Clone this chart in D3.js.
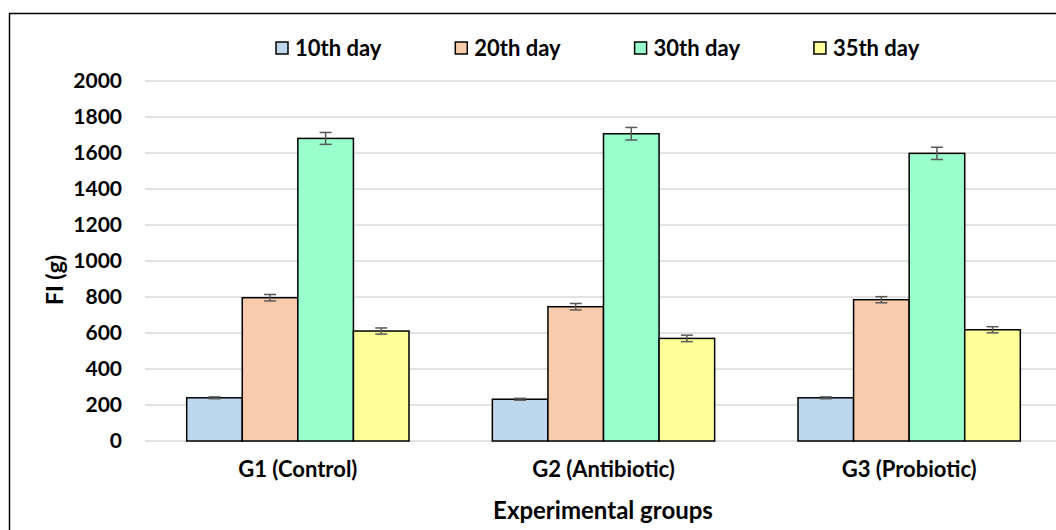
<!DOCTYPE html>
<html>
<head>
<meta charset="utf-8">
<script src="https://cdn.jsdelivr.net/npm/d3@7"></script>
<style>
    body { margin: 0; background: #fff; }
    svg { display: block; font-family: Lato, "Open Sans", sans-serif; font-weight: bold; }
</style>
</head>
<body>
<div id="chart"></div>
<script>

const groups = ["G1 (Control)", "G2 (Antibiotic)", "G3 (Probiotic)"];
const days = ["10th day", "20th day", "30th day", "35th day"];
const dayColors = ["#bdd7ee", "#f8cbad", "#99ffcc", "#ffff99"];

// mean FI per group, one array per day
const day10 = [240, 232, 240];
const day20 = [796, 746, 785];
const day30 = [1681, 1707, 1598];
const day35 = [611, 570, 618];

// error bar half-length
const err10 = [5, 5, 5];
const err20 = [18, 18, 17];
const err30 = [33, 35, 34];
const err35 = [17, 18, 17];

const yTicks = [0, 200, 400, 600, 800, 1000, 1200, 1400, 1600, 1800, 2000];

class GroupedBarChart {

    constructor(width = 1056, height = 530) {
        this.width = width;
        this.height = height;
        this.plotLeft = 145;
        this.plotRight = 1062;
        this.plotTop = 81;
        this.plotBottom = 441;
    }

    initialize() {

        const series = [day10, day20, day30, day35];
        const errors = [err10, err20, err30, err35];

        const rows = [];
        groups.forEach((g, gi) => {
            days.forEach((d, di) => {
                rows.push({ group: g, day: d, value: series[di][gi], err: errors[di][gi] });
            });
        });

        const svg = d3.select("#chart")
            .append("svg")
            .attr("width", this.width)
            .attr("height", this.height);

        // outer frame
        svg.append("rect")
            .attr("x", 9.5)
            .attr("y", 13.5)
            .attr("width", this.width + 20)
            .attr("height", this.height + 20)
            .attr("fill", "none")
            .attr("stroke", "#000")
            .attr("stroke-width", 1.5);

        const x0 = d3.scaleBand()
            .domain(groups)
            .range([this.plotLeft, this.plotRight])
            .paddingInner(0.2727)
            .paddingOuter(0.1364);

        const x1 = d3.scaleBand()
            .domain(days)
            .range([0, x0.bandwidth()]);

        const y = d3.scaleLinear()
            .domain([0, 2000])
            .range([this.plotBottom, this.plotTop]);

        const color = d3.scaleOrdinal()
            .domain(days)
            .range(dayColors);

        // gridlines
        svg.append("g")
            .selectAll("line")
            .data(yTicks)
            .enter()
            .append("line")
            .attr("x1", this.plotLeft)
            .attr("x2", this.plotRight)
            .attr("y1", d => y(d))
            .attr("y2", d => y(d))
            .attr("stroke", "#d9d9d9")
            .attr("stroke-width", 1.5);

        // y axis labels
        const yAxis = d3.axisLeft(y)
            .tickValues(yTicks)
            .tickFormat(d3.format("d"))
            .tickSize(0)
            .tickPadding(0);

        svg.append("g")
            .attr("transform", `translate(122, 0)`)
            .call(yAxis)
            .call(g => g.select(".domain").remove())
            .selectAll("text")
            .attr("font-family", "Lato, sans-serif")
            .attr("font-size", 21)
            .attr("font-weight", "bold")
            .attr("fill", "#000");

        // bars
        svg.append("g")
            .selectAll("rect")
            .data(rows)
            .enter()
            .append("rect")
            .attr("x", d => x0(d.group) + x1(d.day))
            .attr("y", d => y(d.value))
            .attr("width", x1.bandwidth())
            .attr("height", d => y(0) - y(d.value))
            .attr("fill", d => color(d.day))
            .attr("stroke", "#000")
            .attr("stroke-width", 1.5);

        // error bars
        const errG = svg.append("g")
            .attr("stroke", "#595959")
            .attr("stroke-width", 1.5);

        rows.forEach(d => {
            const cx = x0(d.group) + x1(d.day) + x1.bandwidth() / 2;
            errG.append("line")
                .attr("x1", cx).attr("x2", cx)
                .attr("y1", y(d.value + d.err)).attr("y2", y(d.value - d.err));
            [d.value + d.err, d.value - d.err].forEach(v => {
                errG.append("line")
                    .attr("x1", cx - 6).attr("x2", cx + 6)
                    .attr("y1", y(v)).attr("y2", y(v));
            });
        });

        // x axis labels
        const xAxis = d3.axisBottom(x0).tickSize(0).tickPadding(0);

        svg.append("g")
            .attr("transform", `translate(0, 461)`)
            .call(xAxis)
            .call(g => g.select(".domain").remove())
            .selectAll("text")
            .attr("font-family", "Lato, sans-serif")
            .attr("font-size", 22)
            .attr("font-weight", "bold")
            .attr("fill", "#000");

        // axis titles
        svg.append("text")
            .attr("x", 603)
            .attr("y", 519)
            .attr("text-anchor", "middle")
            .attr("font-size", 24)
            .text("Experimental groups");

        svg.append("text")
            .attr("transform", `translate(63, 280) rotate(-90)`)
            .attr("text-anchor", "middle")
            .attr("font-size", 23)
            .text("FI (g)");

        // legend
        const legend = svg.append("g")
            .selectAll("g")
            .data(days)
            .enter()
            .append("g")
            .attr("transform", (d, i) => `translate(${276 + i * 179.3}, 42)`);

        legend.append("rect")
            .attr("width", 12)
            .attr("height", 12)
            .attr("fill", d => color(d))
            .attr("stroke", "#000")
            .attr("stroke-width", 1.5);

        legend.append("text")
            .attr("x", 19)
            .attr("y", 14)
            .attr("font-size", 22)
            .text(d => d);
    }
}

const chart = new GroupedBarChart();
chart.initialize();

</script>
</body>
</html>
